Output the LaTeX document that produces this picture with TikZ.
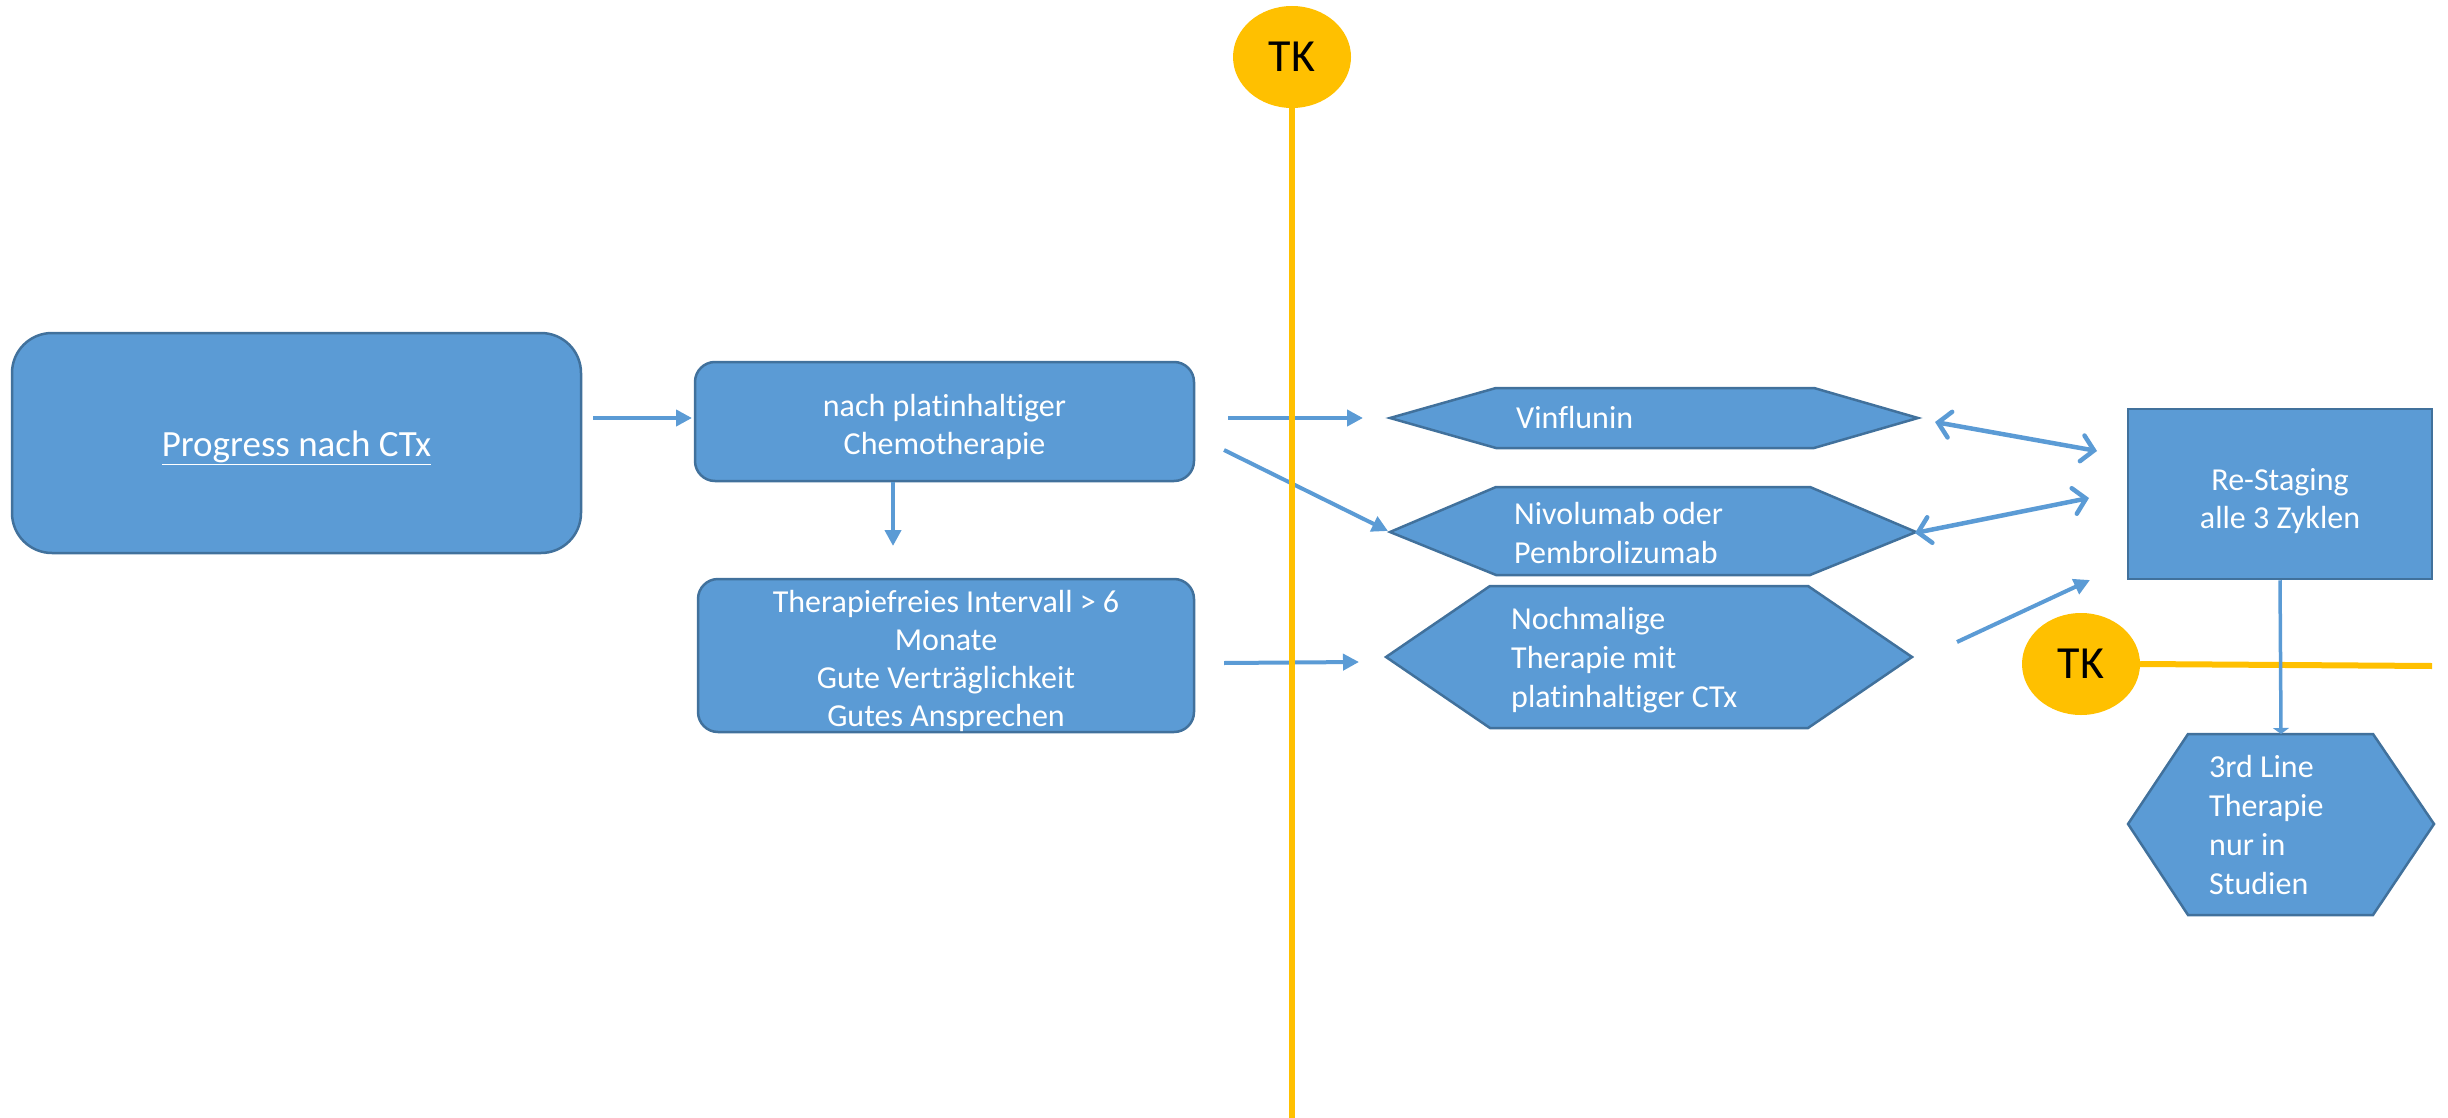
\documentclass[tikz,border=0pt]{standalone}
\usepackage{fontspec}
\setmainfont{Carlito}[Ligatures={NoCommon}]
\usetikzlibrary{arrows.meta,shapes.geometric}
\definecolor{boxblue}{HTML}{5B9BD5}
\definecolor{edgeblue}{HTML}{41719C}
\definecolor{tkyellow}{HTML}{FFC000}
\begin{document}
\begin{tikzpicture}[x=1pt,y=-1pt,
  box/.style={draw=edgeblue, fill=boxblue, line width=2.5pt, inner sep=0pt},
  boxtxt/.style={text=white, inner sep=0pt, align=center, font=\fontsize{32}{38}\selectfont},
  hex/.style={draw=edgeblue, fill=boxblue, line width=2.5pt, line join=miter},
  txt/.style={text=white, inner sep=0pt, align=left, anchor=west, font=\fontsize{32}{39}\selectfont},
  arr/.style={draw=boxblue, line width=4pt, -{Triangle[length=16pt,width=16pt]}},
  dbl/.style={draw=boxblue, line width=4.5pt, line cap=round, {Straight Barb[length=12pt,width=26pt,line cap=round]}-{Straight Barb[length=12pt,width=26pt,line cap=round]}},
  tk/.style={ellipse, fill=tkyellow, minimum width=118pt, minimum height=102pt, inner sep=0pt, font=\fontsize{46}{54}\selectfont},
  yline/.style={draw=tkyellow, line width=6pt}]
\useasboundingbox (0,0) rectangle (2448,1118);

% boxes
\node[box, rounded corners=40pt, minimum width=569pt, minimum height=220pt] (prog) at (296.5,443) {};
\node[boxtxt] (progtxt) at (296.5,448) {\fontsize{37}{44}\selectfont\underline{Progress nach CTx}};
\node[box, rounded corners=20pt, minimum width=499pt, minimum height=119pt] (chemo) at (944.5,421.5) {};
\node[boxtxt] (chemotxt) at (944.5,426.5) {nach platinhaltiger\\Chemotherapie};
\node[box, rounded corners=20pt, minimum width=496pt, minimum height=153pt] (frei) at (946,655.5) {};
\node[boxtxt] (freitxt) at (946,661) {Therapiefreies Intervall > 6\\Monate\\Gute Verträglichkeit\\Gutes Ansprechen};
\node[box, minimum width=304pt, minimum height=170pt] (restage) at (2280,494) {};
\node[boxtxt] (restagetxt) at (2280,501) {Re-Staging\\alle 3 Zyklen};

% hexagons
\draw[hex] (1390,418) -- (1496,388) -- (1814,388) -- (1918,418) -- (1814,448) -- (1496,448) -- cycle;
\node[txt] (vin) at (1516,418) {Vinflunin};
\draw[hex] (1390,532) -- (1496,487) -- (1810,487) -- (1916,532) -- (1810,575) -- (1496,575) -- cycle;
\node[txt] (nivo) at (1514,533) {Nivolumab oder\\Pembrolizumab};
\draw[hex] (1386,657) -- (1490,586) -- (1808,586) -- (1912,657) -- (1808,728) -- (1490,728) -- cycle;
\node[txt] (noch) at (1511,660) {Nochmalige\\Therapie mit\\platinhaltiger CTx};
\draw[hex] (2128,824) -- (2188,734) -- (2373,734) -- (2434,824) -- (2373,915) -- (2188,915) -- cycle;
\node[txt] (third) at (2209,825) {3rd Line\\Therapie\\nur in\\Studien};
\coordinate (thirdtop) at (2281,734);

% arrow end points
\coordinate (a1s) at (593,418);   \coordinate (a1e) at (692,418);
\coordinate (a3s) at (1228,418);  \coordinate (a3e) at (1363,418);
\coordinate (a4s) at (1224,450);  \coordinate (a4e) at (1388,531);
\coordinate (a5s) at (1224,663);  \coordinate (a5e) at (1359,662);
\coordinate (d1s) at (1935,422);  \coordinate (d1e) at (2097,451);
\coordinate (d2s) at (1915,533);  \coordinate (d2e) at (2089,498);
\coordinate (a6s) at (1957,642);  \coordinate (a6e) at (2090,580);
\coordinate (a2e) at (893,546);

\draw[arr] (chemo.south -| a2e) -- (a2e);
\draw[arr] (a1s) -- (a1e);
\draw[arr] (a3s) -- (a3e);
\draw[arr] (a4s) -- (a4e);
\draw[arr] (a5s) -- (a5e);
\draw[dbl] (d1s) -- (d1e);
\draw[dbl] (d2s) -- (d2e);
\draw[arr] (a6s) -- (a6e);

% TK markers
\node[tk] (tk1) at (1292,57) {TK};
\coordinate (ybot) at (1292,1118);
\draw[yline] (tk1.south) -- (ybot);
\node[tk] (tk2) at (2081,664) {TK};
\coordinate (yright) at (2432,666);
\draw[yline] (tk2.east) -- (yright);

\draw[draw=boxblue, line width=3.5pt, -{Triangle[length=6pt,width=16pt]}] (restage.south) -- (thirdtop);
\end{tikzpicture}
\end{document}
